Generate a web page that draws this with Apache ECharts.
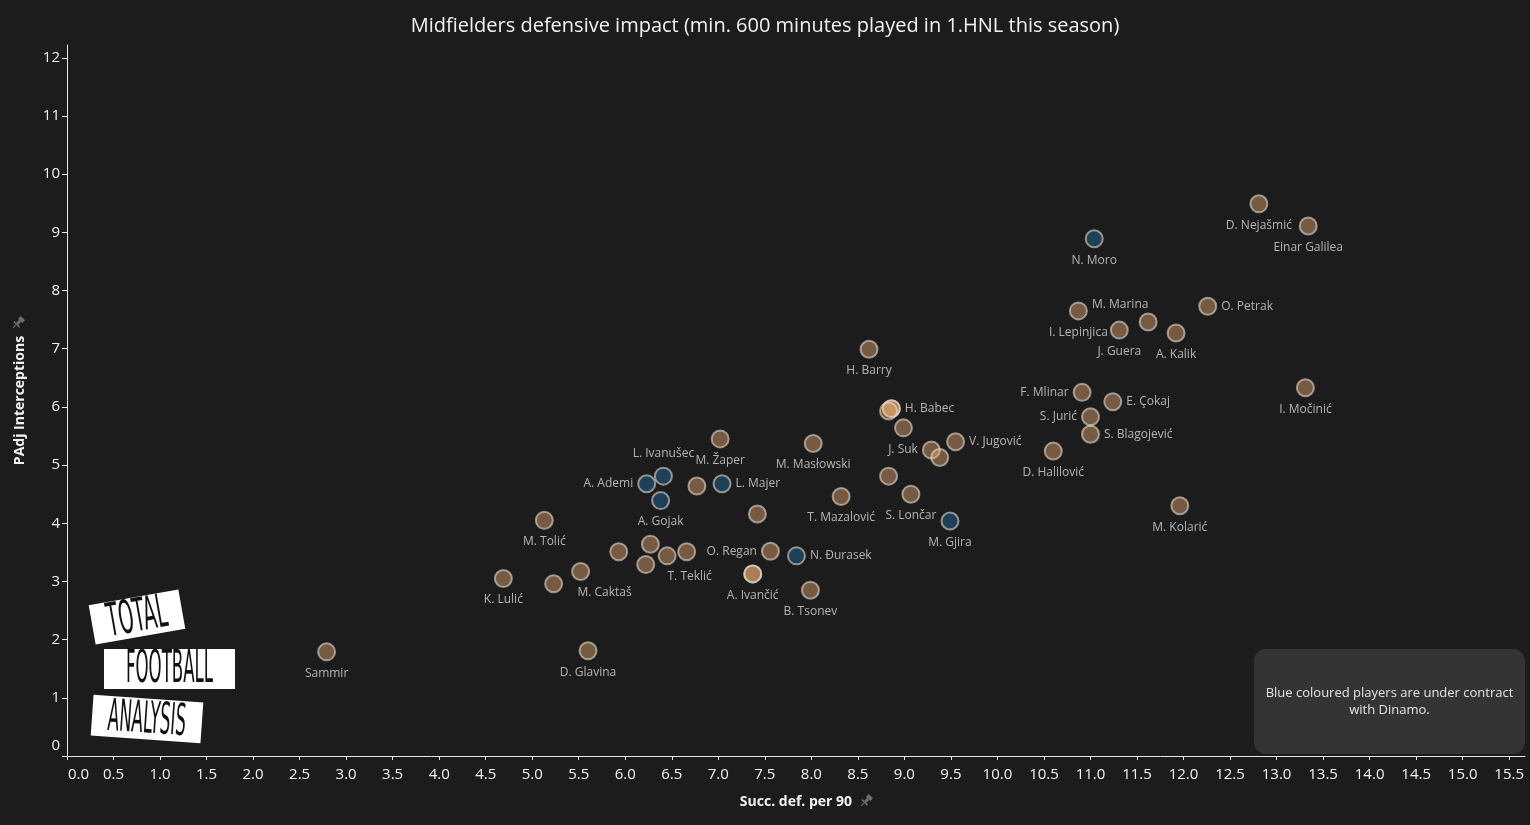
<!DOCTYPE html>
<html>
<head>
<meta charset="utf-8">
<script src="https://cdn.jsdelivr.net/npm/echarts@6/dist/echarts.min.js"></script>
<style>
html,body{margin:0;padding:0;background:#1c1c1c;}
#chart{width:1530px;height:825px;}
</style>
</head>
<body>
<div id="chart"></div>
<script>
// ---- data ----
const players = ['D. Nejašmić','Einar Galilea','N. Moro','I. Lepinjica','J. Guera','M. Marina','A. Kalik','O. Petrak',
  'H. Barry','F. Mlinar','E. Çokaj','S. Jurić','S. Blagojević','D. Halilović','I. Močinić','M. Kolarić',
  'H. Babec','','','','J. Suk','','V. Jugović','M. Žaper','L. Ivanušec','A. Ademi','A. Gojak','','L. Majer',
  'M. Masłowski','','T. Mazalović','','S. Lončar','M. Gjira','M. Tolić','','','','T. Teklić','',
  'O. Regan','N. Đurasek','A. Ivančić','','B. Tsonev','K. Lulić','','M. Caktaš','Sammir','D. Glavina'];
const succDefPer90 = [12.81,13.34,11.04,10.87,11.31,11.62,11.92,12.26,
  8.62,10.91,11.24,11.00,11.00,10.60,13.31,11.96,
  8.86,8.86,8.83,8.99,9.29,9.38,9.55,7.02,6.41,6.23,6.38,6.77,7.04,
  8.02,7.42,8.32,8.83,9.07,9.49,5.13,5.93,6.27,6.45,6.66,6.22,
  7.56,7.84,7.37,7.37,7.99,4.69,5.23,5.52,2.79,5.60];
const padjInterceptions = [9.49,9.11,8.89,7.65,7.32,7.46,7.27,7.73,
  6.99,6.25,6.09,5.83,5.53,5.24,6.33,4.30,
  5.97,5.97,5.93,5.64,5.26,5.13,5.40,5.45,4.81,4.68,4.39,4.64,4.68,
  5.37,4.16,4.46,4.81,4.50,4.04,4.05,3.51,3.64,3.44,3.51,3.29,
  3.52,3.44,3.13,3.13,2.85,3.05,2.96,3.17,1.79,1.81];
const dinamo = [0,0,1,0,0,0,0,0,
  0,0,0,0,0,0,0,0,
  0,0,0,0,0,0,0,0,1,1,1,0,1,
  0,0,0,0,0,1,0,0,0,0,0,0,
  0,1,0,0,0,0,0,0,0,0];
const xTicks = [0,0.5,1,1.5,2,2.5,3,3.5,4,4.5,5,5.5,6,6.5,7,7.5,8,8.5,9,9.5,10,10.5,11,11.5,12,12.5,13,13.5,14,14.5,15,15.5];
const yTicks = [0,1,2,3,4,5,6,7,8,9,10,11,12];
const titleText = 'Midfielders defensive impact (min. 600 minutes played in 1.HNL this season)';
const noteText = 'Blue coloured players are under contract\nwith Dinamo.';

// ---- label layout (style, not data) ----
const labelLayout = {
  'O. Petrak': ['right'], 'H. Babec': ['right'], 'V. Jugović': ['right'], 'L. Majer': ['right'],
  'E. Çokaj': ['right'], 'S. Blagojević': ['right'], 'N. Đurasek': ['right'],
  'F. Mlinar': ['left'], 'S. Jurić': ['left'], 'J. Suk': ['left'], 'A. Ademi': ['left'], 'O. Regan': ['left'],
  'L. Ivanušec': ['top', [0, -1]], 'M. Marina': ['top', [-28, 4]],
  'M. Caktaš': ['bottom', [24, 0]], 'T. Teklić': ['bottom', [3, 3]]
};

const FONT = '"Open Sans", "Noto Sans", sans-serif';
const brown = {color: 'rgba(240,178,118,0.53)', borderColor: 'rgba(235,225,215,0.72)', borderWidth: 2};
const blue = {color: 'rgba(34,116,168,0.53)', borderColor: 'rgba(235,225,215,0.72)', borderWidth: 2};

function build(flag) {
  const out = [];
  for (let i = 0; i < players.length; i++) {
    if (dinamo[i] !== flag) continue;
    const lay = labelLayout[players[i]] || ['bottom'];
    const isSide = lay[0] === 'left' || lay[0] === 'right';
    out.push({
      name: players[i],
      value: [succDefPer90[i], padjInterceptions[i]],
      label: {position: lay[0], offset: lay[1] || [0, 0], distance: isSide ? 4 : 6}
    });
  }
  return out;
}

const labelStyle = {
  show: true, formatter: '{b}', color: '#dadada', fontSize: 12, fontFamily: FONT
};

const chart = echarts.init(document.getElementById('chart'), null, {renderer: 'canvas'});

function pin(x, y) {
  return {
    type: 'group', x: x, y: y, rotation: -Math.PI / 4, silent: true,
    children: [
      {type: 'rect', shape: {x: -3, y: -7, width: 6, height: 4}, style: {fill: '#6e6e6e'}},
      {type: 'rect', shape: {x: -1.5, y: -3, width: 3, height: 4}, style: {fill: '#6e6e6e'}},
      {type: 'rect', shape: {x: -4, y: 1, width: 8, height: 1.6}, style: {fill: '#6e6e6e'}},
      {type: 'line', shape: {x1: 0, y1: 2, x2: 0, y2: 7}, style: {stroke: '#6e6e6e', lineWidth: 1}}
    ]
  };
}

function logoBox(cx, cy, w, h, rot, txt, fs, sx) {
  return {
    type: 'group', x: cx, y: cy, rotation: rot, silent: true,
    children: [
      {type: 'rect', shape: {x: -w / 2, y: -h / 2, width: w, height: h}, style: {fill: '#ffffff'}},
      {type: 'text', x: 0, y: 2, scaleX: sx, style: {text: txt, fill: '#111111', fontSize: fs,
        fontFamily: '"Liberation Sans Narrow", "DejaVu Sans Condensed", sans-serif',
        align: 'center', verticalAlign: 'middle'}}
    ]
  };
}

const option = {
  backgroundColor: '#1c1c1c',
  animation: false,
  title: {
    text: titleText, left: 'center', top: 11,
    textStyle: {color: '#f2f2f2', fontSize: 20, fontWeight: 'normal', fontFamily: FONT}
  },
  grid: {left: 67, right: 5, top: 45, bottom: 69},
  xAxis: {
    type: 'value', min: 0, max: 15.67, interval: 0.5,
    name: 'Succ. def. per 90', nameLocation: 'middle', nameGap: 39,
    nameTextStyle: {color: '#f2f2f2', fontSize: 14, fontWeight: 'bold', fontFamily: FONT},
    axisLine: {show: true, lineStyle: {color: '#e6e6e6', width: 1}},
    axisTick: {show: true, length: 4, lineStyle: {color: '#e6e6e6'}, customValues: xTicks},
    splitLine: {show: false},
    axisLabel: {
      customValues: xTicks, color: '#eef2f6', fontSize: 15, fontFamily: FONT, margin: 11,
      formatter: function (v) { return v === 0 ? '{z|0.0}' : Number(v).toFixed(1); },
      rich: {z: {padding: [0, 0, 0, 23], color: '#eef2f6', fontSize: 15, fontFamily: FONT}}
    }
  },
  yAxis: {
    type: 'value', min: 0, max: 12.22, interval: 1,
    name: 'PAdj Interceptions', nameLocation: 'middle', nameGap: 40, nameRotate: 90,
    nameTextStyle: {color: '#f2f2f2', fontSize: 14, fontWeight: 'bold', fontFamily: FONT},
    axisLine: {show: true, lineStyle: {color: '#e6e6e6', width: 1}},
    axisTick: {show: true, length: 5, lineStyle: {color: '#e6e6e6'}, customValues: yTicks},
    splitLine: {show: false},
    axisLabel: {
      customValues: yTicks, color: '#eef2f6', fontSize: 15, fontFamily: FONT, margin: 7,
      formatter: function (v) { return v === 0 ? '{z|0}' : String(v); },
      rich: {z: {padding: [0, 0, 20, 0], color: '#eef2f6', fontSize: 15, fontFamily: FONT}}
    }
  },
  series: [
    {
      name: 'Other clubs', type: 'scatter', symbol: 'circle', symbolSize: 17,
      itemStyle: brown, label: labelStyle, data: build(0)
    },
    {
      name: 'Dinamo', type: 'scatter', symbol: 'circle', symbolSize: 17,
      itemStyle: blue, label: labelStyle, data: build(1)
    }
  ],
  graphic: [
    {
      type: 'rect', left: 1254, top: 649, silent: true,
      shape: {width: 271, height: 105, r: 12}, style: {fill: '#343434'}
    },
    {
      type: 'text', x: 1389.5, y: 702, silent: true,
      style: {text: noteText, fill: '#e4e4e4', fontSize: 13, fontFamily: FONT, align: 'center',
        verticalAlign: 'middle', lineHeight: 17.5}
    },
    pin(866, 801),
    pin(18, 323),
    logoBox(137, 617, 91, 40, 10 * Math.PI / 180, 'TOTAL', 46, 0.46),
    logoBox(169.5, 669, 131, 40, 0, 'FOOTBALL', 44, 0.42),
    logoBox(147, 719, 110, 41, -4 * Math.PI / 180, 'ANALYSIS', 44, 0.42)
  ]
};
chart.setOption(option);
</script>
</body>
</html>
